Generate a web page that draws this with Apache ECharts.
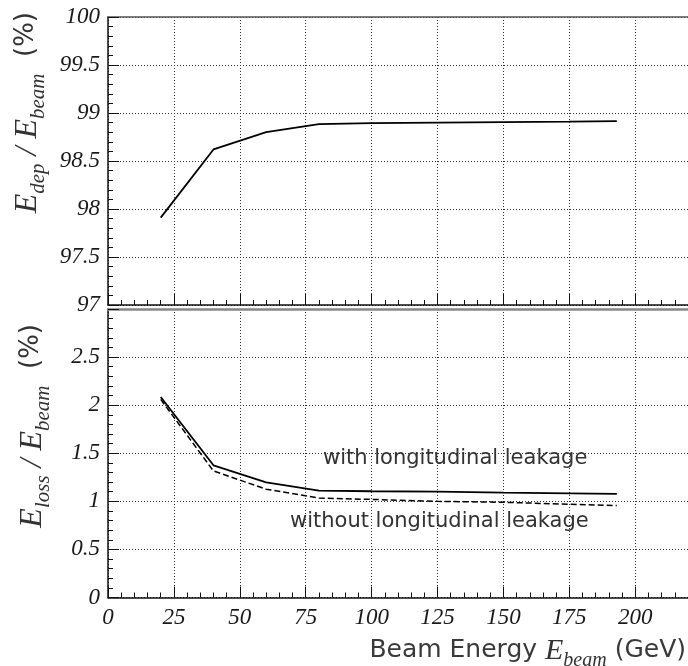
<!DOCTYPE html>
<html>
<head>
<meta charset="utf-8">
<script src="https://cdn.jsdelivr.net/npm/echarts@6/dist/echarts.min.js"></script>
<style>html,body{margin:0;padding:0;background:#fff}#c{width:688px;height:666px}</style>
</head>
<body>
<div id="c"></div>
<script>
// Beam energies (GeV)
const energies = [20, 40, 60, 80, 100, 125, 150, 175, 193];
// Top panel: deposited fraction (%)
const edepFrac = [97.91, 98.62, 98.80, 98.885, 98.895, 98.90, 98.905, 98.91, 98.915];
// Bottom panel: energy loss (%)
const lossWithLong = [2.085, 1.375, 1.197, 1.112, 1.105, 1.10, 1.09, 1.083, 1.078];
const lossWithoutLong = [2.06, 1.316, 1.126, 1.034, 1.02, 1.00, 0.99, 0.97, 0.956];
// Axis ranges / ticks
const xTicks = [0, 25, 50, 75, 100, 125, 150, 175, 200];
const topYTicks = [97, 97.5, 98, 98.5, 99, 99.5, 100];
const botYTicks = [0, 0.5, 1, 1.5, 2, 2.5];

const serif = 'Liberation Serif';
const sans = 'DejaVu Sans';
const lbl = {fontFamily: serif, fontStyle: 'italic', fontSize: 23, color: '#1a1a1a'};

function xAxisCfg(gi, showLabels) {
  return {
    type: 'value', gridIndex: gi, min: 0, max: 220, interval: 25,
    axisLine: {show: true, lineStyle: {color: '#111', width: 1.5}},
    axisTick: {show: true, inside: true, length: 11, lineStyle: {color: '#111', width: 1}},
    minorTick: {show: true, splitNumber: 5, length: 5, lineStyle: {color: '#111', width: 1}},
    splitLine: {show: true, lineStyle: {type: [1, 2], color: '#333', width: 1}},
    minorSplitLine: {show: false},
    axisLabel: Object.assign({show: showLabels, margin: 9, showMaxLabel: false,
      formatter: v => xTicks.includes(v) ? String(v) : ''}, lbl)
  };
}
function topBorder(gi, color, width) {
  return {
    type: 'value', gridIndex: gi, position: 'top', min: 0, max: 220,
    axisLine: {show: true, lineStyle: {color: color, width: width}},
    axisTick: {show: false}, axisLabel: {show: false}, splitLine: {show: false}
  };
}
function yAxisCfg(gi, min, max, ticks, showMax) {
  return {
    type: 'value', gridIndex: gi, min: min, max: max, interval: 0.5,
    axisLine: {show: true, lineStyle: {color: '#111', width: 1.5}},
    axisTick: {show: true, inside: true, length: 11, lineStyle: {color: '#111', width: 1}},
    minorTick: {show: true, splitNumber: 5, length: 5, lineStyle: {color: '#111', width: 1}},
    splitLine: {show: true, lineStyle: {type: [1, 2], color: '#333', width: 1}},
    axisLabel: Object.assign({margin: 8, showMaxLabel: showMax, showMinLabel: true,
      formatter: v => ticks.some(t => Math.abs(t - v) < 1e-9) ? String(v) : ''}, lbl)
  };
}

const richTitle = {
  E: {fontFamily: serif, fontStyle: 'italic', fontSize: 32, lineHeight: 32, verticalAlign: 'top', fill: '#333'},
  sub: {fontFamily: serif, fontStyle: 'italic', fontSize: 21, lineHeight: 21, padding: [16, 0, 0, 0], verticalAlign: 'top', fill: '#333'},
  sl: {fontFamily: serif, fontStyle: 'italic', fontSize: 32, lineHeight: 32, verticalAlign: 'top', fill: '#333'},
  pc: {fontFamily: sans, fontSize: 26, lineHeight: 32, padding: [1, 0, 0, 0], verticalAlign: 'top', fill: '#333'}
};
const richX = {
  E: {fontFamily: serif, fontStyle: 'italic', fontSize: 30, lineHeight: 30, verticalAlign: 'top', fill: '#333'},
  sub: {fontFamily: serif, fontStyle: 'italic', fontSize: 20, lineHeight: 20, padding: [15, 0, 0, 0], verticalAlign: 'top', fill: '#333'},
  t: {fontFamily: sans, fontSize: 25, lineHeight: 30, padding: [2, 0, 0, 0], verticalAlign: 'top', fill: '#3a3a3a'}
};

const chart = echarts.init(document.getElementById('c'), null, {renderer: 'canvas'});
chart.setOption({
  animation: false,
  backgroundColor: '#fff',
  grid: [
    {left: 108, top: 17, right: -2, height: 288},
    {left: 108, top: 309, right: -2, height: 288.5}
  ],
  xAxis: [xAxisCfg(0, false), xAxisCfg(1, true), topBorder(0, '#555', 1.5), topBorder(1, '#888', 2.5)],
  yAxis: [yAxisCfg(0, 97, 100, topYTicks, true), yAxisCfg(1, 0, 3, botYTicks, false)],
  series: [
    {type: 'line', xAxisIndex: 0, yAxisIndex: 0, showSymbol: false, symbol: 'none',
     lineStyle: {color: '#000', width: 1.8}, data: energies.map((e, i) => [e, edepFrac[i]])},
    {type: 'line', xAxisIndex: 1, yAxisIndex: 1, showSymbol: false, symbol: 'none',
     lineStyle: {color: '#000', width: 1.8}, data: energies.map((e, i) => [e, lossWithLong[i]])},
    {type: 'line', xAxisIndex: 1, yAxisIndex: 1, showSymbol: false, symbol: 'none',
     lineStyle: {color: '#000', width: 1.5, type: [6, 3]}, data: energies.map((e, i) => [e, lossWithoutLong[i]])}
  ],
  graphic: [
    {type: 'text', x: 323, y: 459, style: {text: 'with longitudinal leakage', font: '21px "DejaVu Sans"', fill: '#333', verticalAlign: 'middle', align: 'left'}},
    {type: 'text', x: 290, y: 522, style: {text: 'without longitudinal leakage', font: '21px "DejaVu Sans"', fill: '#333', verticalAlign: 'middle', align: 'left'}},
    {type: 'text', x: 686, y: 636, style: {text: '{t|Beam Energy }{E|E}{sub|beam}{t| (GeV)}', fill: '#333', align: 'right', verticalAlign: 'top', rich: richX}},
    {type: 'text', x: 12, y: 12, rotation: Math.PI / 2, style: {text: '{E|E}{sub|dep}{sl| / }{E|E}{sub|beam}{pc|  (%)}', fill: '#333', align: 'right', verticalAlign: 'top', rich: richTitle}},
    {type: 'text', x: 17, y: 324, rotation: Math.PI / 2, style: {text: '{E|E}{sub|loss}{sl| / }{E|E}{sub|beam}{pc|  (%)}', fill: '#333', align: 'right', verticalAlign: 'top', rich: richTitle}}
  ]
});
</script>
</body>
</html>
